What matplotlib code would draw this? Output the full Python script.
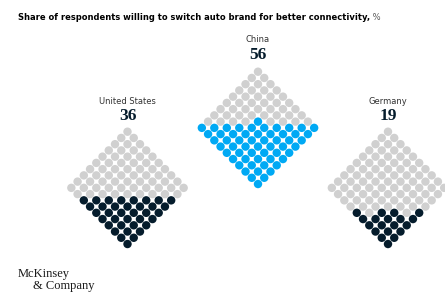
import matplotlib
matplotlib.use("Agg")
import matplotlib.pyplot as plt
from matplotlib.patches import Circle

# ---- data ----
countries = ["United States", "China", "Germany"]
values = [36, 56, 19]
# positions (within the partially-filled row) that are coloured
partial_positions = [[], [4], [0, 2, 3, 5]]

title_bold = "Share of respondents willing to switch auto brand for better connectivity,"
title_unit = " %"

# ---- style / layout ----
W, H = 445, 293
fill_colors = ["#051c2c", "#00a9f4", "#051c2c"]
gray = "#d0d0d0"
centers_x = [127.5, 258.0, 388.0]
tops_y = [131.7, 71.7, 131.7]
row_dy = 6.24
col_dx = 12.48
radius = 4.2
label_y_off = [-30.5, -32.5, -30.5]
num_y_off = [-15.5, -17, -15.5]

fig = plt.figure(figsize=(W / 100, H / 100), dpi=100)
ax = fig.add_axes([0, 0, 1, 1])
ax.set_xlim(0, W)
ax.set_ylim(H, 0)
ax.axis("off")

for k, (name, val) in enumerate(zip(countries, values)):
    cx, top = centers_x[k], tops_y[k]
    rows = []
    for i in range(19):
        n = i + 1 if i <= 9 else 19 - i
        rows.append(n)
    # determine filled cells from the bottom
    filled = set()
    remaining = val
    i = 18
    while remaining > 0 and i >= 0:
        n = rows[i]
        if remaining >= n:
            for j in range(n):
                filled.add((i, j))
            remaining -= n
        else:
            for j in partial_positions[k][:remaining]:
                filled.add((i, j))
            remaining = 0
        i -= 1
    for i, n in enumerate(rows):
        y = top + i * row_dy
        for j in range(n):
            x = cx + (j - (n - 1) / 2) * col_dx
            c = fill_colors[k] if (i, j) in filled else gray
            ax.add_patch(Circle((x, y), radius, facecolor=c, edgecolor="none"))
    ax.text(cx, top + label_y_off[k], name, ha="center", va="center",
            fontsize=6.0, color="#333333", family="DejaVu Sans")
    ax.text(cx, top + num_y_off[k], str(val), ha="center", va="center",
            fontsize=12.5, fontweight="bold", color="#051c2c",
            family="Liberation Serif")

t = ax.text(18, 17, title_bold, ha="left", va="center", fontsize=6.0,
            fontweight="bold", color="#000000", family="DejaVu Sans")
ax.annotate(title_unit, xy=(1, 0), xycoords=t, ha="left", va="bottom",
            fontsize=6.0, color="#555555", family="DejaVu Sans")

ax.text(18, 274, "McKinsey", ha="left", va="center", fontsize=9,
        color="#1a1a1a", family="Liberation Serif")
ax.text(33, 286.5, "& Company", ha="left", va="center", fontsize=9,
        color="#1a1a1a", family="Liberation Serif")

fig.savefig("out.png", dpi=100, facecolor="white")
